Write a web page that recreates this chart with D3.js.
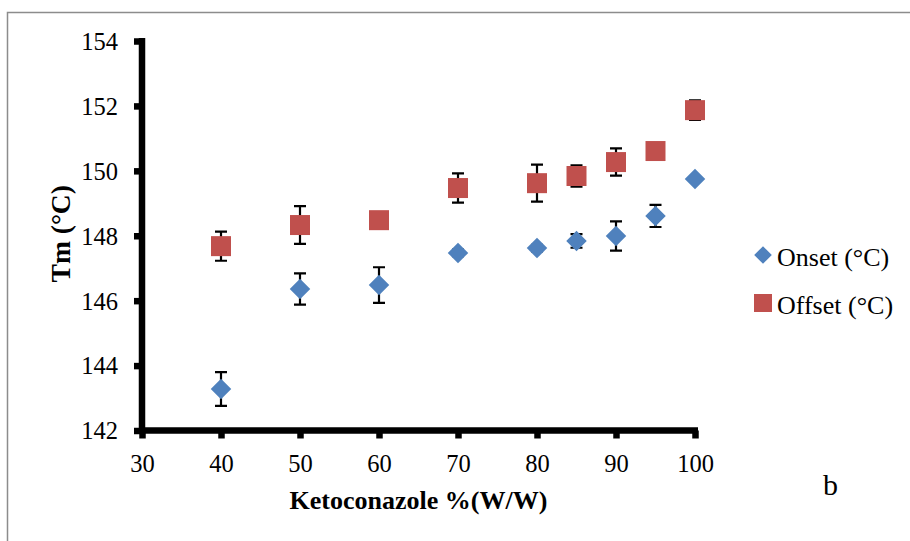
<!DOCTYPE html>
<html>
<head>
<meta charset="utf-8">
<script src="https://cdn.jsdelivr.net/npm/d3@7"></script>
<style>
  html, body { margin: 0; padding: 0; background: #fff; }
  svg { display: block; font-family: "Liberation Serif", "Times New Roman", serif; }
</style>
</head>
<body>
<svg id="chart" width="910" height="541"></svg>
<script>
'use strict';

// ── Data ─────────────────────────────────────────────────────
const ketoconazole = [40, 50, 60, 70, 80, 85, 90, 95, 100];
const onset        = [143.28, 146.36, 146.48, 147.47, 147.62, 147.84, 147.99, 148.61, 149.75];
const onsetErr     = [0.52, 0.48, 0.55, 0.10, 0.10, 0.21, 0.45, 0.34, 0.05];
const offset       = [147.68, 148.33, 148.48, 149.47, 149.62, 149.84, 150.27, 150.61, 151.87];
const offsetErr    = [0.45, 0.58, 0.05, 0.45, 0.57, 0.33, 0.42, 0.10, 0.30];
const xTicks       = [30, 40, 50, 60, 70, 80, 90, 100];
const yTicks       = [142, 144, 146, 148, 150, 152, 154];
const seriesNames  = ['Onset (°C)', 'Offset (°C)'];

const BLUE = '#4f81bd';
const RED  = '#c0504d';

const svg = d3.select('#chart');

// outer frame (runs off the right and bottom edge)
svg.append('path')
  .attr('d', 'M7.5,545 V12.5 H915')
  .attr('fill', 'none')
  .attr('stroke', '#8c8c8c')
  .attr('stroke-width', 1.5);

// ── Scales ───────────────────────────────────────────────────
const x = d3.scaleLinear().domain([30, 100]).range([142, 695]);
const y = d3.scaleLinear().domain([142, 154]).range([430.5, 41]);

// ── Axes ─────────────────────────────────────────────────────
const gx = svg.append('g').attr('transform', `translate(0,${y(142)})`)
  .call(d3.axisBottom(x).tickValues(xTicks).tickSize(8).tickPadding(16));
const gy = svg.append('g').attr('transform', `translate(${x(30)},0)`)
  .call(d3.axisLeft(y).tickValues(yTicks).tickSize(8).tickPadding(16));

[gx, gy].forEach(g => {
  g.select('.domain').remove();
  g.selectAll('.tick line').attr('stroke', '#000').attr('stroke-width', 6.5);
  g.selectAll('.tick text')
    .attr('font-size', 24.5)
    .attr('fill', '#000')
    .attr('font-family', '"Liberation Serif", serif');
});
gx.selectAll('.tick text').attr('dy', '0.71em');
gy.selectAll('.tick text').attr('dy', '0.34em');

// axis lines drawn over the ticks
svg.append('line')
  .attr('x1', x(30)).attr('x2', x(100) + 3)
  .attr('y1', y(142)).attr('y2', y(142))
  .attr('stroke', '#000').attr('stroke-width', 6.5);
svg.append('line')
  .attr('x1', x(30)).attr('x2', x(30))
  .attr('y1', y(142) + 3).attr('y2', y(154) - 3)
  .attr('stroke', '#000').attr('stroke-width', 6.5);

// ── Axis titles ──────────────────────────────────────────────
svg.append('text')
  .attr('x', (x(30) + x(100)) / 2).attr('y', 509)
  .attr('text-anchor', 'middle')
  .attr('font-size', 26).attr('font-weight', 'bold')
  .text('Ketoconazole %(W/W)');

svg.append('text')
  .attr('transform', `translate(70,${(y(142) + y(154)) / 2 - 2}) rotate(-90)`)
  .attr('text-anchor', 'middle')
  .attr('font-size', 27.5).attr('font-weight', 'bold')
  .text('Tm (°C)');

svg.append('text')
  .attr('x', 823).attr('y', 495)
  .attr('font-size', 30)
  .text('b');

// ── Series ───────────────────────────────────────────────────
function errorBars(vals, errs) {
  const g = svg.append('g').attr('stroke', '#000').attr('stroke-width', 2.2);
  const d = ketoconazole.map((k, i) => ({ k, v: vals[i], e: errs[i] }));
  g.selectAll('path').data(d).join('path')
    .attr('fill', 'none')
    .attr('d', p => {
      const cx = x(p.k), y0 = y(p.v - p.e), y1 = y(p.v + p.e);
      return `M${cx - 6},${y1} H${cx + 6} M${cx},${y1} V${y0} M${cx - 6},${y0} H${cx + 6}`;
    });
}

errorBars(offset, offsetErr);
errorBars(onset, onsetErr);

const sq = d3.symbol().type(d3.symbolSquare).size(20 * 20);
const dm = d3.symbol().type(d3.symbolSquare).size(14.5 * 14.5);

svg.append('g').selectAll('path')
  .data(ketoconazole.map((k, i) => ({ k, v: offset[i] })))
  .join('path')
  .attr('transform', d => `translate(${x(d.k)},${y(d.v)})`)
  .attr('d', sq)
  .attr('fill', RED);

svg.append('g').selectAll('path')
  .data(ketoconazole.map((k, i) => ({ k, v: onset[i] })))
  .join('path')
  .attr('transform', d => `translate(${x(d.k)},${y(d.v)}) rotate(45)`)
  .attr('d', dm)
  .attr('fill', BLUE);

// ── Legend ───────────────────────────────────────────────────
const legend = svg.append('g').attr('transform', 'translate(763,255)');
legend.append('path')
  .attr('transform', 'rotate(45)')
  .attr('d', d3.symbol().type(d3.symbolSquare).size(12.5 * 12.5))
  .attr('fill', BLUE);
legend.append('path')
  .attr('transform', 'translate(0,48)')
  .attr('d', d3.symbol().type(d3.symbolSquare).size(18 * 18))
  .attr('fill', RED);
legend.selectAll('text').data(seriesNames).join('text')
  .attr('x', 14)
  .attr('y', (d, i) => 11 + i * 48)
  .attr('font-size', 26)
  .text(d => d);
</script>
</body>
</html>
